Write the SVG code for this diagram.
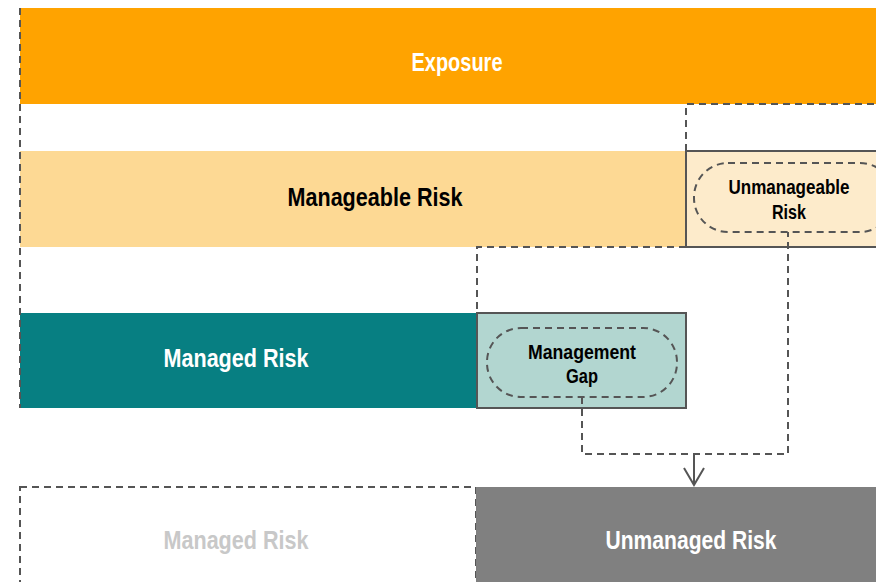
<svg xmlns="http://www.w3.org/2000/svg" width="876" height="582" viewBox="0 0 876 582">
<defs>
<style>
text{font-family:"Liberation Sans Narrow","Liberation Sans",Arial,sans-serif;font-weight:bold;text-anchor:middle}
.big{font-size:26px}
.small{font-size:20px}
.dash{fill:none;stroke:#555;stroke-width:2;stroke-dasharray:7 5}
.solid{stroke:#555;stroke-width:2}
</style>
<marker id="arr" viewBox="0 0 20 22" refX="18" refY="11" markerWidth="20" markerHeight="22" markerUnits="userSpaceOnUse" orient="auto">
<path d="M1,1 L18,11 L1,21" fill="none" stroke="#555" stroke-width="2"/>
</marker>
</defs>
<rect width="876" height="582" fill="#fff"/>
<g id="exposure">
<rect x="20" y="8" width="856" height="96" fill="#FFA300"/>
<text class="big" x="457" y="71" fill="#fff" textLength="91" lengthAdjust="spacingAndGlyphs">Exposure</text>
</g>
<g id="manageable">
<rect x="20" y="151" width="666" height="96" fill="#FDD994"/>
<text class="big" x="375" y="206" fill="#000" textLength="175" lengthAdjust="spacingAndGlyphs">Manageable Risk</text>
</g>
<g id="unmanageable">
<rect x="686" y="151" width="200" height="96" fill="#FDEBCB" class="solid"/>
<rect x="694" y="163" width="200" height="69" rx="34" class="dash"/>
<text class="small" x="789" y="194" fill="#000" textLength="121" lengthAdjust="spacingAndGlyphs">Unmanageable</text>
<text class="small" x="789" y="219" fill="#000" textLength="34" lengthAdjust="spacingAndGlyphs">Risk</text>
</g>
<g id="managed">
<rect x="20" y="313" width="457" height="95" fill="#077F82"/>
<text class="big" x="236" y="367" fill="#fff" textLength="145" lengthAdjust="spacingAndGlyphs">Managed Risk</text>
</g>
<g id="gap">
<rect x="477" y="313" width="209" height="95" fill="#B2D6D0" class="solid"/>
<rect x="487" y="328" width="190" height="69" rx="34" class="dash"/>
<text class="small" x="582" y="359" fill="#000" textLength="108" lengthAdjust="spacingAndGlyphs">Management</text>
<text class="small" x="582" y="383" fill="#000" textLength="32" lengthAdjust="spacingAndGlyphs">Gap</text>
</g>
<g id="managed-after">
<rect x="20" y="487" width="456" height="110" class="dash"/>
<text class="big" x="236" y="549" fill="#C8C8C8" textLength="145" lengthAdjust="spacingAndGlyphs">Managed Risk</text>
</g>
<g id="unmanaged">
<rect x="476" y="487" width="400" height="95" fill="#808080"/>
<text class="big" x="691" y="549" fill="#fff" textLength="171" lengthAdjust="spacingAndGlyphs">Unmanaged Risk</text>
</g>
<g id="connectors">
<path class="dash" d="M20,8 V408"/>
<path class="dash" d="M686,151 V104 H876"/>
<path class="dash" d="M686,247 H477 V313"/>
<path class="dash" d="M582,397 V454 H788 V232"/>
<path d="M694,454 V485" fill="none" stroke="#555" stroke-width="2" marker-end="url(#arr)"/>
</g>
</svg>
